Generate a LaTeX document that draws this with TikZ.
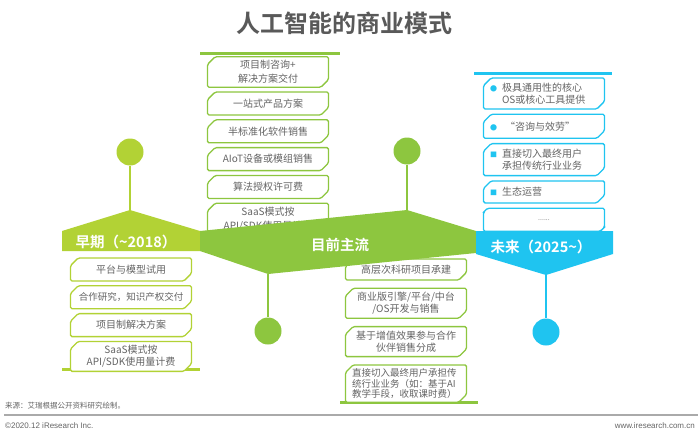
\documentclass[tikz,border=0pt]{standalone}
\usepackage{fontspec}
\setmainfont{Noto Sans CJK SC}[BoldFont={Noto Sans CJK SC Bold}]
\newfontfamily\footfont{Liberation Sans}
\usetikzlibrary{positioning,shapes.misc}

\definecolor{earlygreen}{RGB}{178,210,53}
\definecolor{maingreen}{RGB}{141,198,63}
\definecolor{futureblue}{RGB}{31,196,240}
\definecolor{titlegray}{RGB}{89,89,89}
\definecolor{textgray}{RGB}{100,100,100}
\definecolor{rulegray}{RGB}{170,170,170}

\tikzstyle{card} = [chamfered rectangle, chamfered rectangle corners={north west,south east},
    chamfered rectangle xsep=4pt, draw, line width=1.3pt, fill=white, rounded corners=1.5pt,
    minimum width=121pt, minimum height=23pt, inner xsep=1pt, inner ysep=0pt, align=center,
    text=textgray, font=\fontsize{10}{13}\selectfont]
\tikzstyle{cardl} = [card, align=left, text width=108pt]
\tikzstyle{dot} = [circle, minimum size=27pt, inner sep=0pt]
\tikzstyle{stem} = [line width=1.5pt]
\tikzstyle{stage} = [text=white, font=\bfseries\fontsize{14.5}{16}\selectfont]
\tikzstyle{bar} = [line width=3pt]
\tikzstyle{foot} = [text=textgray, inner sep=0pt, font=\footfont\fontsize{8}{9}\selectfont]

\newcommand\bdot{\makebox[12pt][l]{\textcolor{futureblue}{\fontsize{7}{7}\selectfont●}}}
\newcommand\bsq{\makebox[12pt][l]{\textcolor{futureblue}{\fontsize{7}{7}\selectfont■}}}

\begin{document}
\begin{tikzpicture}[x=1pt, y=-1pt]
        \useasboundingbox (0,0) rectangle (700,436);
        % Title
        \node [text=titlegray, font=\bfseries\fontsize{24}{28}\selectfont] (title) at (344,23) {人工智能的商业模式};
        % Bars
        \draw [bar, maingreen] (200,53) -- (340,53);
        \draw [bar, futureblue] (474,73) -- (612,73);
        \draw [bar, earlygreen] (62,369.5) -- (200,369.5);
        \draw [bar, maingreen] (340,402) -- (478,402);
        % Place cards: main stream, above
        \node [card, draw=maingreen, minimum height=30pt, font=\fontsize{10}{14}\selectfont] (gt1) at (268,72) {项目制咨询+\\解决方案交付};
        \node [card, draw=maingreen, below=3.5pt of gt1] (gt2) {一站式产品方案};
        \node [card, draw=maingreen, below=3.5pt of gt2] (gt3) {半标准化软件销售};
        \node [card, draw=maingreen, below=3.5pt of gt3] (gt4) {AIoT设备或模组销售};
        \node [card, draw=maingreen, below=3.5pt of gt4] (gt5) {算法授权许可费};
        \node [card, draw=maingreen, below=3.5pt of gt5, minimum height=28pt, font=\fontsize{10}{14}\selectfont] (gt6) {SaaS模式按\\API/SDK使用量计费};
        % Future cards
        \node [cardl, draw=futureblue, minimum height=31pt, font=\fontsize{10}{12.5}\selectfont] (bt1) at (544,93.5) {\bdot 极具通用性的核心\\\hspace*{12pt}OS或核心工具提供};
        \node [cardl, draw=futureblue, below=4pt of bt1, minimum height=24pt] (bt2) {\bdot\hspace{3pt}“咨询与效劳”};
        \node [cardl, draw=futureblue, below=4pt of bt2, minimum height=32pt, font=\fontsize{10}{12.5}\selectfont] (bt3) {\bsq 直接切入最终用户\\\hspace*{12pt}承担传统行业业务};
        \node [cardl, draw=futureblue, below=4pt of bt3, minimum height=22pt] (bt4) {\bsq 生态运营};
        \node [card, draw=futureblue, below=4pt of bt4, minimum height=23pt, font=\fontsize{7}{8}\selectfont] (bt5) {......};
        % Early cards
        \node [card, draw=earlygreen] (eb1) at (131,269.5) {平台与模型试用};
        \node [card, draw=earlygreen, below=3.5pt of eb1, font=\fontsize{9.5}{12}\selectfont] (eb2) {合作研究，知识产权交付};
        \node [card, draw=earlygreen, below=3.5pt of eb2] (eb3) {项目制解决方案};
        \node [card, draw=earlygreen, below=3.5pt of eb3, minimum height=27pt, font=\fontsize{10}{12.5}\selectfont] (eb4) {SaaS模式按\\API/SDK使用量计费};
        % Main stream cards, below
        \node [card, draw=maingreen, minimum height=21pt] (gb1) at (406,269.5) {高层次科研项目承建};
        \node [card, draw=maingreen, below=7pt of gb1, minimum height=30pt, font=\fontsize{10}{12.5}\selectfont] (gb2) {商业版引擎/平台/中台\\/OS开发与销售};
        \node [card, draw=maingreen, below=7pt of gb2, minimum height=30pt, font=\fontsize{10}{12.5}\selectfont] (gb3) {基于增值效果参与合作\\伙伴销售分成};
        \node [cardl, draw=maingreen, below=7pt of gb3, minimum height=36pt, font=\fontsize{9.5}{10.5}\selectfont] (gb4) {直接切入最终用户承担传\\统行业业务（如：基于AI\\教学手段，收取课时费）};
        % Band
        \fill [earlygreen] (62,231) -- (130,210) -- (200,231) -- (200,251) -- (62,251) -- cycle;
        \fill [maingreen] (200,231) -- (407,210) -- (476,231) -- (476,253) -- (268,274) -- (200,251) -- cycle;
        \fill [futureblue] (476,231) -- (613,231) -- (613,254) -- (546,275) -- (476,254) -- cycle;
        \coordinate (ep) at (130,210);
        \coordinate (mp) at (407,210);
        \coordinate (mt) at (268,274);
        \coordinate (ft) at (546,275);
        \node [stage] (early) at (126,242) {早期（\textasciitilde2018）};
        \node [stage] (main) at (340,245) {目前主流};
        \node [stage] (future) at (541,247) {未来（2025\textasciitilde）};
        % Circles and stems
        \node [dot, fill=earlygreen] (edot) at (130,152) {};
        \node [dot, fill=maingreen] (mdot) at (407,151) {};
        \node [dot, fill=maingreen] (bdot) at (268,331) {};
        \node [dot, fill=futureblue] (fdot) at (546,332) {};
        \draw [stem, earlygreen] (edot) -- (ep);
        \draw [stem, maingreen] (mdot) -- (mp);
        \draw [stem, maingreen] (mt) -- (bdot);
        \draw [stem, futureblue] (ft) -- (fdot);
        % Footer
        \node [foot, anchor=west, font=\fontsize{7.5}{9}\selectfont] (source) at (5,406) {来源：艾瑞根据公开资料研究绘制。};
        \draw [rulegray, line width=1.5pt] (4,415) -- (698,415);
        \node [foot, anchor=west] (copy) at (5,426) {©2020.12 iResearch Inc.};
        \node [foot, anchor=east] (web) at (695,426) {www.iresearch.com.cn};
    \end{tikzpicture}
\end{document}
